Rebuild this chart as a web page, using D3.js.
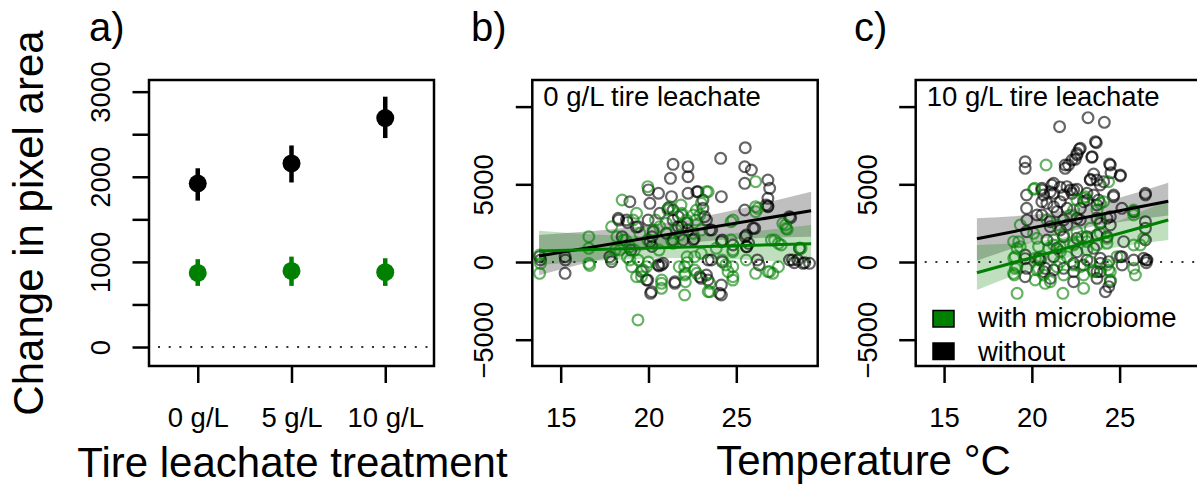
<!DOCTYPE html>
<html>
<head>
<meta charset="utf-8">
<script src="https://cdn.jsdelivr.net/npm/d3@7"></script>
<style>
  body { margin: 0; background: #fff; }
  svg text { font-family: "Liberation Sans", Arial, Helvetica, sans-serif; fill: #000; }
</style>
</head>
<body>
<div id="chart"></div>
<script>
// ---- panel a: treatment means with intervals
const treatments = ["0 g/L", "5 g/L", "10 g/L"];
const withMean = [870, 894, 879];
const withLow = [718, 718, 718];
const withHigh = [1032, 1062, 1043];
const withoutMean = [1921, 2157, 2690];
const withoutLow = [1720, 1933, 2455];
const withoutHigh = [2100, 2368, 2941];
const aTicks = [0, 500, 1000, 1500, 2000, 2500, 3000];

// ---- panels b and c: temperature vs change, [temp, change]
const tempTicks = [15, 20, 25];
const changeTicks = [-5000, 0, 5000, 10000];

const b0With = [
  [13.8,450],[13.8,-730],[13.85,-90],[16.6,1630],[16.6,880],[16.6,-90],[16.65,-220],
  [17.9,2270],[17.9,200],[18.1,770],[18.2,1630],[18.5,3990],[18.56,1416],[18.37,773],[18.7,1410],[18.8,300],
  [18.94,987],[18.94,129],[19.05,-300],[19.13,2703],[19.2,770],[19.32,3132],[19.32,-944],[19.4,-3730],[19.41,129],
  [19.51,1845],[19.6,-950],[19.7,-514],[19.89,-300],[19.96,4850],[19.96,1410],[20.0,0],[20.27,2060],[20.4,2700],
  [20.6,770],[20.64,2274],[20.74,-1372],[20.74,-1694],[20.75,-1160],[21.02,2488],[21.1,3350],[21.21,3561],[21.3,1410],
  [21.4,1202],[21.59,2060],[21.75,-300],[21.78,1738],[21.85,3670],[21.88,3025],[21.9,3130],[22.06,-300],[22.06,-836],
  [22.06,-2123],[22.1,-1270],[22.1,-730],[22.16,2703],[22.2,-40],[22.2,340],[22.54,3025],[22.54,1845],[22.63,344],
  [22.63,-514],[22.7,2700],[22.73,3347],[22.75,-730],[22.92,3025],[23.0,560],[23.01,3775],[23.01,2060],[23.3,4526],
  [23.4,4520],[23.4,-1910],[23.49,-1372],[23.5,-1909],[23.86,880],[24.2,130],[24.4,-190],[24.53,-622],[24.7,2590],
  [24.7,1410],[24.8,660],[24.8,-300],[24.81,2703],[24.81,-944],[24.81,772],[24.8,-1160],[25.57,129],[26.1,5170],
  [26.1,3560],[26.1,3240],[26.1,-730],[26.23,3454],[26.8,-622],[26.9,-620],[27.0,1410],[27.08,-729],[27.18,1416],
  [27.4,1200],[27.4,-300],[27.56,1094],[27.65,2488],[27.8,2380],[27.84,2167],[27.9,2100],[28.6,880],[28.69,880]
];
const b0Without = [
  [13.8,344],[13.85,130],[15.25,340],[15.27,130],[15.25,-730],[17.8,340],[17.9,20],[18.28,2810],[18.3,2700],
  [18.5,1630],[18.75,2700],[18.8,2550],[18.94,3880],[19.0,770],[19.3,2250],[19.41,2274],[19.6,-600],[19.89,-1158],
  [19.96,-1160],[19.98,2700],[20.0,4640],[20.08,3775],[20.08,1309],[20.12,-2016],[20.17,-1909],[20.2,1630],[20.2,1000],
  [20.27,1952],[20.55,-193],[20.57,4420],[20.6,-250],[20.64,3132],[20.74,-193],[20.83,-86],[21.02,1845],[21.12,3454],
  [21.25,5384],[21.31,4205],[21.4,6283],[21.4,3347],[21.4,2700],[21.4,1410],[21.5,-1270],[21.5,-1370],[21.69,2274],
  [21.7,2920],[21.9,2270],[21.97,1416],[22.2,2510],[22.25,6130],[22.25,5490],[22.25,4420],[22.25,2060],[22.54,1416],
  [22.6,1500],[22.75,4520],[22.82,4528],[22.92,-944],[23.0,-1050],[23.1,3990],[23.1,3454],[23.2,2920],[23.3,2703],
  [23.3,-840],[23.39,-1158],[23.4,130],[23.49,2060],[23.58,129],[23.6,2060],[24.05,-2016],[24.11,6670],[24.15,4205],
  [24.15,1309],[24.15,-1480],[24.15,-2123],[24.2,1410],[24.2,20],[24.81,1094],[25.48,6130],[25.48,5060],[25.48,3346],
  [25.51,7357],[25.57,1738],[25.57,987],[25.5,1630],[25.6,990],[25.7,1200],[25.86,5920],[25.95,2167],[26.05,2170],
  [26.2,130],[26.3,-190],[26.7,3668],[26.8,5277],[26.8,3561],[26.9,4742],[26.8,4099],[26.8,3600],[28.03,2917],
  [28.1,2850],[28.03,129],[28.2,129],[28.3,-40],[28.5,129],[28.6,880],[28.8,-84],[28.9,-40],[29.17,-86]
];
const c10With = [
  [18.96,1309],[18.96,-729],[18.97,236],[19.0,-837],[19.05,344],[19.06,-408],[19.15,-300],[19.16,880],[19.16,-2016],
  [19.25,1308],[19.34,2381],[19.34,987],[20.1,4676],[20.16,4741],[20.1,1845],[20.19,-1158],[20.2,236],[20.29,1523],
  [20.29,-515],[20.38,987],[20.38,-408],[20.48,344],[20.67,-837],[20.76,-1373],[20.81,6242],[20.86,2703],[20.96,880],
  [21.05,-1265],[21.24,1416],[21.24,1094],[21.43,2381],[21.43,-300],[21.62,987],[21.62,665],[21.62,23],[21.77,-2016],
  [21.81,1738],[21.81,-836],[22.0,344],[22.19,3025],[22.38,1202],[22.38,1094],[22.38,-193],[22.38,3347],[22.57,1952],
  [22.57,3990],[22.76,-300],[22.85,1631],[22.95,4097],[22.95,-836],[22.95,-1694],[23.04,4204],[23.14,773],[23.14,1309],
  [23.33,2167],[23.33,23],[23.52,-515],[23.52,-622],[23.71,3347],[23.71,1094],[23.9,3776],[23.9,2596],[23.9,1845],
  [24.09,3882],[24.28,1202],[24.28,1523],[24.28,-193],[24.37,5170],[24.37,-515],[24.47,-622],[24.47,-1158],[24.85,344],
  [25.8,3025],[25.8,3347],[25.8,3239],[25.8,1094],[25.8,-408],[25.9,-837],[26.18,1094],[26.37,1523]
];
const c10Without = [
  [19.62,6456],[19.62,6028],[19.7,4311],[19.7,3453],[19.72,2703],[19.7,1952],[19.62,450],[19.62,216],[19.7,-408],
  [19.62,-944],[20.29,3025],[20.57,4741],[20.57,4634],[20.67,4311],[20.57,3882],[20.57,3025],[20.48,129],[20.38,236],
  [20.67,-622],[20.76,-408],[20.86,3775],[20.86,1416],[21.05,-1051],[21.14,4955],[21.24,4419],[21.24,5063],[21.24,3561],
  [21.24,344],[21.05,2274],[21.05,2596],[21.05,4526],[21.24,-515],[21.43,880],[21.43,3239],[21.58,8709],[21.62,4805],
  [21.62,3882],[21.62,2060],[21.81,4312],[21.81,2703],[21.81,-408],[21.8,1630],[21.9,6028],[21.9,6242],[22.0,4848],
  [22.0,3454],[22.0,2381],[22.09,6242],[22.19,4634],[22.29,6564],[22.29,4419],[22.38,4633],[22.38,-86],[22.38,-622],
  [22.38,-1265],[22.47,6607],[22.57,6886],[22.57,6993],[22.57,4676],[22.57,2810],[22.57,1523],[22.57,665],[22.7,7250],
  [22.76,7315],[22.76,3453],[22.76,2703],[22.95,3882],[22.95,-193],[23.14,3990],[23.14,1630],[23.14,129],[23.14,4419],
  [23.2,9288],[23.33,5320],[23.33,5277],[23.42,6736],[23.43,6778],[23.52,5663],[23.52,4312],[23.52,880],[23.62,7743],
  [23.67,7679],[23.71,5277],[23.71,3668],[23.71,2810],[23.71,1738],[23.71,-622],[23.71,-1050],[23.8,3990],[23.9,2489],
  [23.9,4955],[23.9,-86],[23.9,236],[23.9,-622],[24.09,5170],[24.13,8988],[24.19,-1909],[24.28,1630],[24.28,2810],
  [24.38,23],[24.38,-1587],[24.43,6307],[24.47,6242],[24.47,2918],[24.47,2381],[24.47,-1265],[24.51,5749],[24.65,4204],
  [24.66,4312],[25.04,5534],[25.04,5599],[25.04,343],[25.13,3454],[25.13,344],[25.14,-193],[25.23,1309],[25.8,3239],
  [25.8,129],[26.37,236],[26.47,4312],[26.47,4419],[26.47,2596],[26.47,2167],[26.47,1416],[26.52,129],[26.52,-43],[26.56,129]
];

// fitted lines [temp, change] and bands [temp, low, high]
const fitB0With = [[13.77, 708], [29.26, 1178]];
const fitB0Without = [[13.77, 390], [29.26, 3300]];
const bandB0With = [[13.77, -193, 2014], [21.5, 250, 1650], [29.26, -84, 2380]];
const bandB0Without = [[13.77, -850, 1737], [21.5, 1100, 2600], [29.26, 1630, 4524]];
const fitC10With = [[16.87, -689], [27.77, 2703]];
const fitC10Without = [[16.87, 1500], [27.77, 3906]];
const bandC10With = [[16.87, -1800, 1100], [22.3, 350, 1700], [27.77, 1416, 3990]];
const bandC10Without = [[16.87, 80, 2812], [22.3, 2000, 3400], [27.77, 3000, 5103]];

const legendLabels = ["with microbiome", "without"];

// ---- styling
const width = 1197, height = 488;
const green = "#008000";
const font = "'Liberation Sans', Arial, Helvetica, sans-serif";
const tickFont = 27.5, titleFont = 42;

const svg = d3.select("#chart").append("svg")
    .attr("width", width).attr("height", height)
    .attr("viewBox", `0 0 ${width} ${height}`);

const minus = d => d < 0 ? "\u2212" + Math.abs(d) : String(d);

// R-style left axis with rotated labels
const drawYAxis = (scale, x, ticks, fmt) => {
    const g = svg.append("g")
        .attr("transform", `translate(${x},0)`)
        .call(d3.axisLeft(scale).tickValues(ticks).tickSize(16.5).tickFormat(fmt))
        .attr("font-family", font).attr("font-size", tickFont);
    g.select(".domain").remove();
    g.selectAll(".tick line").attr("stroke", "#000").attr("stroke-width", 2.5);
    g.selectAll(".tick text")
        .attr("x", null).attr("dy", null)
        .attr("text-anchor", "middle")
        .attr("transform", "translate(-39,0) rotate(-90)");
};

const drawXAxis = (scale, y, ticks, fmt) => {
    const g = svg.append("g")
        .attr("transform", `translate(0,${y})`)
        .call(d3.axisBottom(scale).tickValues(ticks).tickSize(17).tickFormat(fmt))
        .attr("font-family", font).attr("font-size", tickFont);
    g.select(".domain").remove();
    g.selectAll(".tick line").attr("stroke", "#000").attr("stroke-width", 2.5);
    g.selectAll(".tick text").attr("y", 61).attr("dy", null);
};

const drawBox = (x0, x1, y0, y1) => {
    svg.append("rect")
        .attr("x", x0).attr("y", y0)
        .attr("width", x1 - x0).attr("height", y1 - y0)
        .attr("fill", "none").attr("stroke", "#000").attr("stroke-width", 2.5);
};

const zeroLine = (g, x0, x1, y) => {
    g.append("line")
        .attr("x1", x0 + 9).attr("x2", x1).attr("y1", y).attr("y2", y)
        .attr("stroke", "#333").attr("stroke-width", 2)
        .attr("stroke-dasharray", "2,8.7");
};

// ================= panel a =================
const aLeft = 149, aRight = 434, aTop = 80, aBottom = 366;
const xA = d3.scaleLinear().domain([0.48, 3.52]).range([aLeft, aRight]);
const yA = d3.scaleLinear().domain([-223, 3137]).range([aBottom, aTop]);

const panelA = svg.append("g");
zeroLine(panelA, aLeft, aRight, yA(0));

const groups = [
    {mean: withoutMean, low: withoutLow, high: withoutHigh, color: "#000"},
    {mean: withMean, low: withLow, high: withHigh, color: green}
];
groups.forEach(grp => {
    panelA.selectAll(null)
        .data(treatments)
        .join("line")
        .attr("x1", (d, i) => xA(i + 1)).attr("x2", (d, i) => xA(i + 1))
        .attr("y1", (d, i) => yA(grp.low[i])).attr("y2", (d, i) => yA(grp.high[i]))
        .attr("stroke", grp.color).attr("stroke-width", 4.5);
    panelA.selectAll(null)
        .data(treatments)
        .join("circle")
        .attr("cx", (d, i) => xA(i + 1))
        .attr("cy", (d, i) => yA(grp.mean[i]))
        .attr("r", 9)
        .attr("fill", grp.color);
});

drawBox(aLeft, aRight, aTop, aBottom);
drawYAxis(yA, aLeft, aTicks, d => d % 1000 === 0 ? d : "");
drawXAxis(xA, aBottom, [1, 2, 3], d => treatments[d - 1]);

// ================= panels b, c =================
const tempDomain = [13.383, 29.636];
const yV = d3.scaleLinear().domain([-6692, 11712]).range([aBottom, aTop]);

const drawTempPanel = (cfg) => {
    const x = d3.scaleLinear().domain(tempDomain).range([cfg.left, cfg.right]);
    const clipId = "clip-" + cfg.id;
    svg.append("clipPath").attr("id", clipId)
        .append("rect")
        .attr("x", cfg.left).attr("y", aTop)
        .attr("width", cfg.right - cfg.left).attr("height", aBottom - aTop);
    const g = svg.append("g").attr("clip-path", `url(#${clipId})`);

    const area = d3.area()
        .x(d => x(d[0])).y0(d => yV(d[1])).y1(d => yV(d[2]))
        .curve(d3.curveNatural);
    g.append("path").datum(cfg.bandWithout).attr("d", area)
        .attr("fill", "rgba(0,0,0,0.25)");
    g.append("path").datum(cfg.bandWith).attr("d", area)
        .attr("fill", "rgba(0,128,0,0.25)");

    zeroLine(g, cfg.left, cfg.right, yV(0));

    const pts = [
        ...cfg.without.map(d => ({t: d[0], v: d[1], c: "rgba(0,0,0,0.6)"})),
        ...cfg.with.map(d => ({t: d[0], v: d[1], c: "rgba(0,128,0,0.6)"}))
    ];
    g.selectAll("circle.pt")
        .data(pts)
        .join("circle")
        .attr("class", "pt")
        .attr("cx", d => x(d.t)).attr("cy", d => yV(d.v))
        .attr("r", 5.4)
        .attr("fill", "none")
        .attr("stroke", d => d.c)
        .attr("stroke-width", 2.2);

    const line = d3.line().x(d => x(d[0])).y(d => yV(d[1]));
    g.append("path").datum(cfg.fitWithout).attr("d", line)
        .attr("fill", "none").attr("stroke", "#000").attr("stroke-width", 3);
    g.append("path").datum(cfg.fitWith).attr("d", line)
        .attr("fill", "none").attr("stroke", green).attr("stroke-width", 3);

    drawBox(cfg.left, cfg.right, aTop, aBottom);
    drawYAxis(yV, cfg.left, changeTicks, d => d === 10000 ? "" : minus(d));
    drawXAxis(x, aBottom, tempTicks, d => d);

    svg.append("text")
        .attr("x", cfg.left + 11).attr("y", 106)
        .attr("font-size", tickFont)
        .text(cfg.title);
    return x;
};

drawTempPanel({
    id: "b", left: 532.3, right: 817.7, title: "0 g/L tire leachate",
    with: b0With, without: b0Without,
    fitWith: fitB0With, fitWithout: fitB0Without,
    bandWith: bandB0With, bandWithout: bandB0Without
});
drawTempPanel({
    id: "c", left: 915.7, right: 1201, title: "10 g/L tire leachate",
    with: c10With, without: c10Without,
    fitWith: fitC10With, fitWithout: fitC10Without,
    bandWith: bandC10With, bandWithout: bandC10Without
});

// legend (panel c)
const legend = svg.append("g").attr("font-size", tickFont);
legend.selectAll("rect")
    .data(legendLabels)
    .join("rect")
    .attr("x", 933).attr("y", (d, i) => 310.5 + i * 32.5)
    .attr("width", 21).attr("height", 16.5)
    .attr("fill", (d, i) => i === 0 ? green : "#000")
    .attr("stroke", "#000").attr("stroke-width", 1.5);
legend.selectAll("text")
    .data(legendLabels)
    .join("text")
    .attr("x", 978).attr("y", (d, i) => 327 + i * 34)
    .text(d => d);

// panel letters and axis titles
svg.selectAll("text.letter")
    .data([["a)", 89], ["b)", 471], ["c)", 854]])
    .join("text")
    .attr("class", "letter")
    .attr("x", d => d[1]).attr("y", 41)
    .attr("font-size", 40)
    .text(d => d[0]);

svg.append("text")
    .attr("transform", `translate(43,${(aTop + aBottom) / 2}) rotate(-90)`)
    .attr("text-anchor", "middle")
    .attr("font-size", titleFont)
    .text("Change in pixel area");

svg.append("text")
    .attr("x", (aLeft + aRight) / 2 + 1).attr("y", 477)
    .attr("text-anchor", "middle")
    .attr("font-size", titleFont)
    .text("Tire leachate treatment");

svg.append("text")
    .attr("x", 863.5).attr("y", 475)
    .attr("text-anchor", "middle")
    .attr("font-size", titleFont)
    .text("Temperature \u00B0C");
</script>
</body>
</html>
